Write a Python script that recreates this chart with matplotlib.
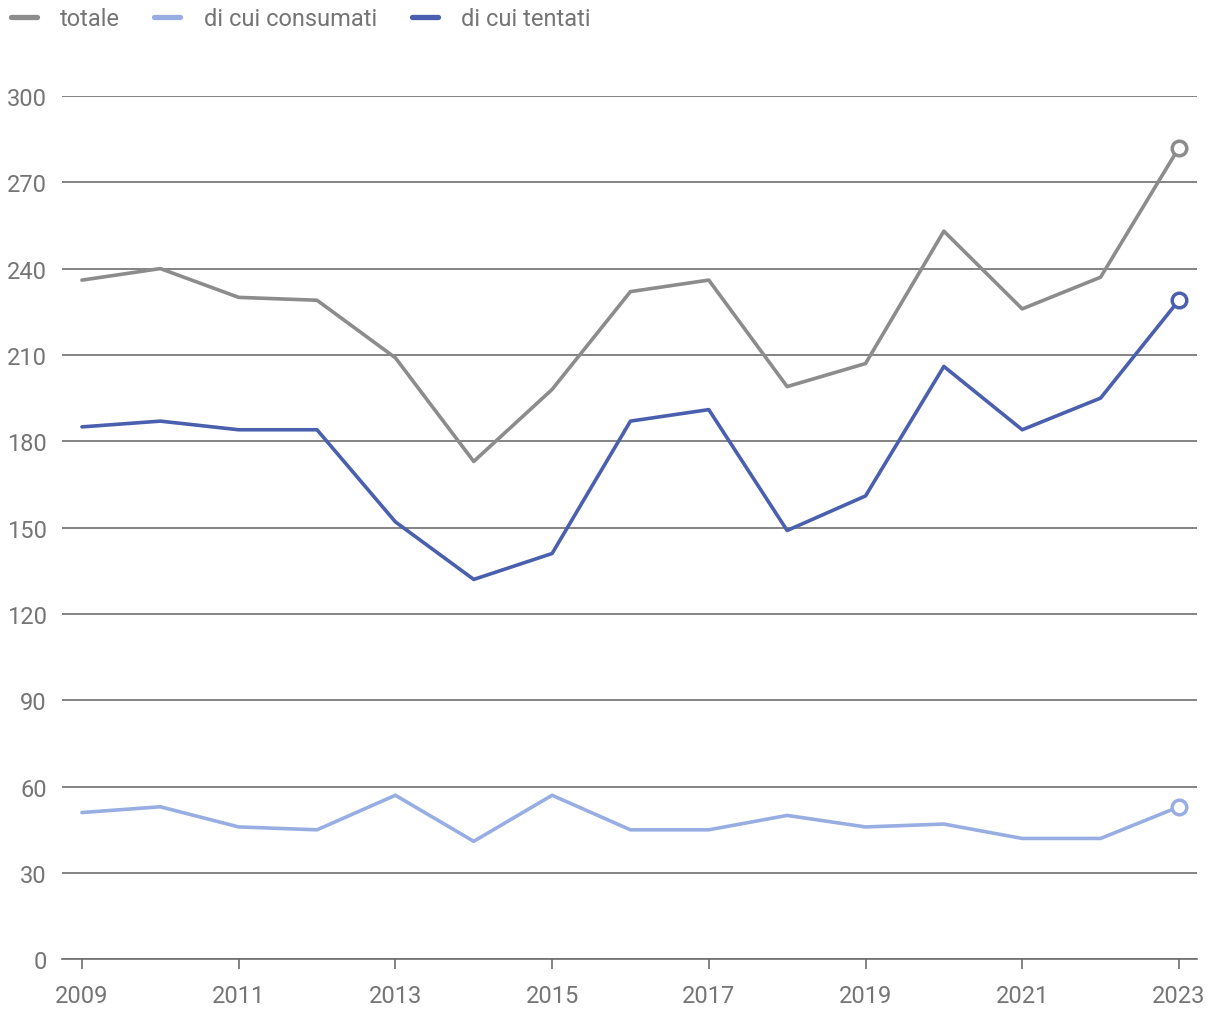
import matplotlib
matplotlib.use("Agg")
import matplotlib.pyplot as plt
from matplotlib.lines import Line2D

plt.rcParams['font.family'] = ['Roboto', 'DejaVu Sans']

anni = list(range(2009, 2024))
totale = [236, 240, 230, 229, 209, 173, 198, 232, 236, 199, 207, 253, 226, 237, 282]
consumati = [51, 53, 46, 45, 57, 41, 57, 45, 45, 50, 46, 47, 42, 42, 53]
tentati = [185, 187, 184, 184, 152, 132, 141, 187, 191, 149, 161, 206, 184, 195, 229]

serie = [("totale", totale, "#8c8c8c"),
         ("di cui consumati", consumati, "#98aee3"),
         ("di cui tentati", tentati, "#4a5fae")]

text_col = "#757575"
grid_col = "#6e6e6e"

fig = plt.figure(figsize=(12.2, 10.2), dpi=100)
ax = fig.add_axes([0.0508, 0.0585, 0.9303, 0.8465])

for lab, vals, col in serie:
    ax.plot(anni, vals, color=col, lw=2.6, solid_capstyle='round', zorder=3)
    ax.plot(anni[-1], vals[-1], 'o', ms=10.5, mfc='white', mec=col, mew=2.5, zorder=4)

ax.set_xlim(2008.745, 2023.23)
ax.set_ylim(0, 300)
ax.set_yticks(range(0, 301, 30))
ax.set_xticks(range(2009, 2024, 2))
ax.grid(axis='y', color=grid_col, lw=1.2)
ax.set_axisbelow(True)
for s in ['top', 'right', 'left']:
    ax.spines[s].set_visible(False)
ax.spines['bottom'].set_color(grid_col)
ax.spines['bottom'].set_linewidth(1.2)
ax.tick_params(axis='y', length=0, pad=11, labelsize=17, labelcolor=text_col)
ax.tick_params(axis='x', length=7, width=1.2, color=grid_col, pad=11,
               labelsize=17, labelcolor=text_col)

handles = [Line2D([], [], color=c, lw=3.8, solid_capstyle='round') for _, _, c in serie]
leg = fig.legend(handles, [s[0] for s in serie], loc='upper left',
                 bbox_to_anchor=(0.001, 1.001), ncol=3, frameon=False,
                 fontsize=17, handlelength=1.1, handletextpad=1.0,
                 columnspacing=1.45, borderaxespad=0.0)
for t in leg.get_texts():
    t.set_color(text_col)

fig.savefig("out.png", dpi=100)
